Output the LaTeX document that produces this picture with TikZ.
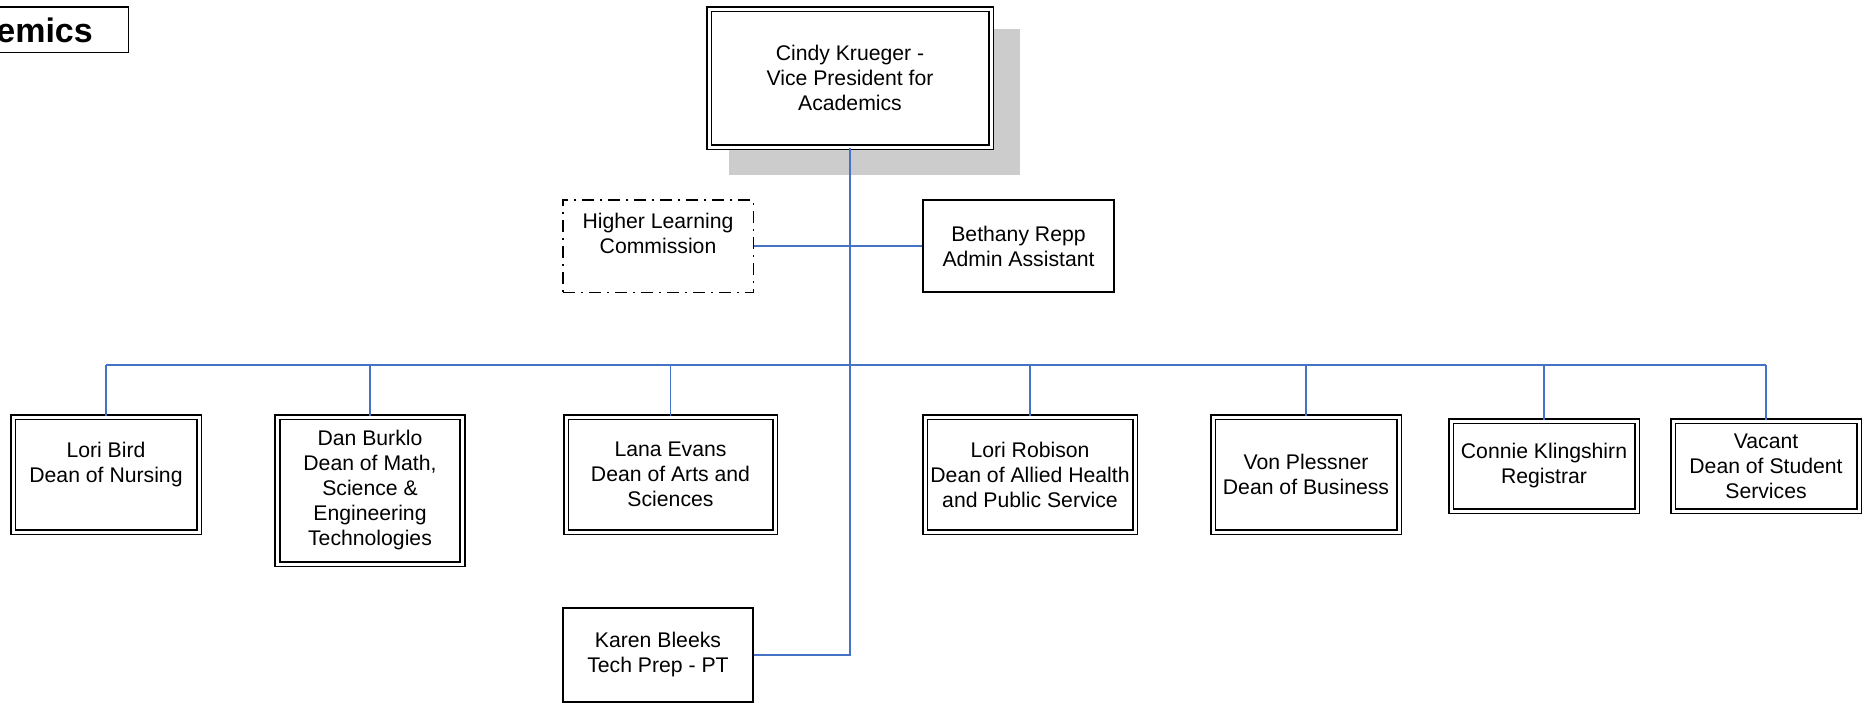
\documentclass[tikz,border=0pt]{standalone}
\usepackage{fontspec}
\setmainfont{Liberation Sans}
\definecolor{linkblue}{RGB}{68,114,196}
\definecolor{shadowgray}{RGB}{204,204,204}
\begin{document}
\begin{tikzpicture}[x=1pt,y=-1pt,
  txt/.style={font=\fontsize{21.2}{25}\selectfont, align=center, inner sep=0pt},
  dbox/.style={txt, draw=black, fill=white, double=white, double distance=3pt, line width=1.6pt},
  sbox/.style={txt, draw=black, fill=white, line width=1.8pt},
  dashbox/.style={txt, draw=black, fill=white, line width=1.5pt, dash pattern=on 12pt off 6pt on 2pt off 6pt},
  link/.style={draw=linkblue, line width=1.6pt}]
\useasboundingbox (0,0) rectangle (1866,704);
% title
\node[draw=black, line width=1.8pt, minimum width=220pt, minimum height=45.5pt, inner sep=0pt] (titlebox) at (18.5,29.75) {};
\node[font=\fontsize{34}{38}\selectfont\bfseries, anchor=base east, inner sep=0pt] (title) at (93,42) {Academics};
% shadow
\fill[shadowgray] (729,29) rectangle (1020,175);
% nodes
\node[dbox, minimum width=282pt, minimum height=138pt] (vp) at (850,78) {Cindy Krueger -\\Vice President for\\Academics};
\node[dashbox, minimum width=190.5pt, minimum height=92.5pt] (hlc) at (658,246) {Higher Learning\\Commission\\\mbox{}};
\node[sbox, minimum width=191pt, minimum height=92pt] (beth) at (1018.5,246) {Bethany Repp\\Admin Assistant};
\node[sbox, minimum width=190pt, minimum height=94pt] (karen) at (658,655) {Karen Bleeks\\Tech Prep - PT};
\node[dbox, minimum width=186pt, minimum height=115pt] (lb) at (106,474.5) {Lori Bird\\Dean of Nursing\\\mbox{}};
\node[dbox, minimum width=185pt, minimum height=147pt] (dan) at (370,490.5) {Dan Burklo\\Dean of Math,\\Science \&\\Engineering\\Technologies};
\node[dbox, minimum width=209pt, minimum height=115pt] (lana) at (670.5,474.5) {Lana Evans\\Dean of Arts and\\Sciences};
\node[dbox, minimum width=210pt, minimum height=115pt] (lr) at (1030,474.5) {Lori Robison\\Dean of Allied Health\\and Public Service};
\node[dbox, minimum width=186pt, minimum height=115pt] (von) at (1306,474.5) {Von Plessner\\Dean of Business};
\node[dbox, minimum width=186pt, minimum height=90pt] (con) at (1544,466) {Connie Klingshirn\\Registrar};
\node[dbox, minimum width=186pt, minimum height=90pt] (vac) at (1766,466) {Vacant\\Dean of Student\\Services};
% connectors
\coordinate (bus) at (0,365);
\draw[link] (vp.south) -- (vp.south |- karen.east) -- (karen.east);
\draw[link] (hlc.east) -- (beth.west);
\draw[link] (lb.north |- bus) -- (vac.north |- bus);
\foreach \n in {lb,dan,lana,lr,von,con,vac}
  \draw[link] (\n.north |- bus) -- (\n.north);
\end{tikzpicture}
\end{document}
